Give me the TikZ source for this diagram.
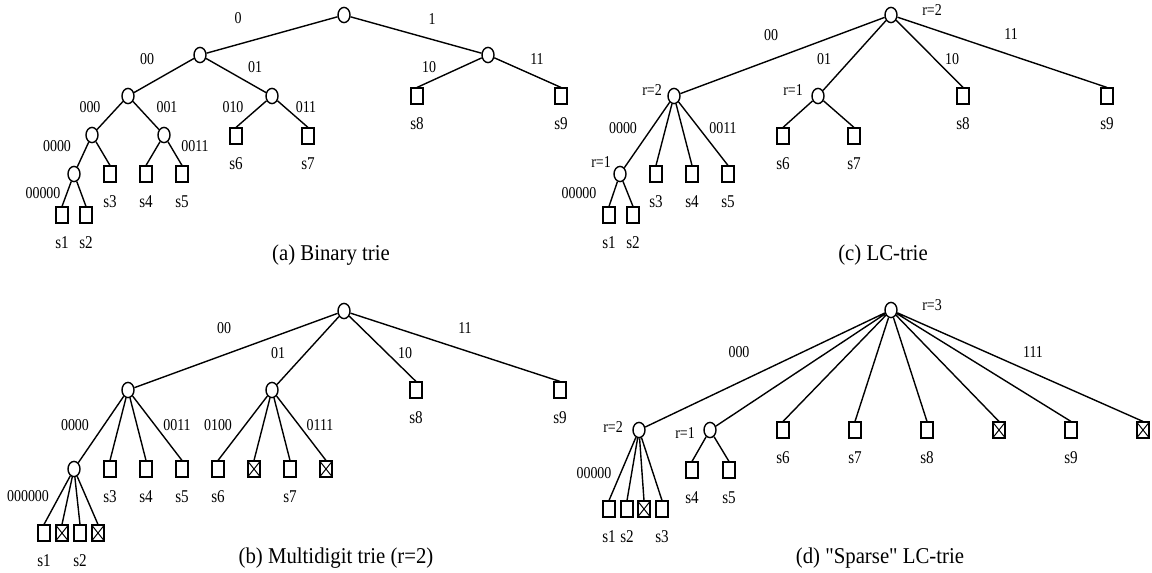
\documentclass[tikz,border=0pt]{standalone}
\usepackage{fontspec}
\setmainfont{Liberation Serif}
\newfontfamily\lblfont[FakeStretch=0.84]{Liberation Serif}
\newfontfamily\capfont[FakeStretch=0.92]{Liberation Serif}
\usetikzlibrary{shapes.geometric}
\begin{document}
\begin{tikzpicture}[x=0.5pt,y=-0.5pt,
  inode/.style={ellipse,draw,line width=0.7pt,minimum width=6pt,minimum height=7.6pt,inner sep=0pt,fill=white},
  leaf/.style={rectangle,draw,line width=0.75pt,minimum width=6.2pt,minimum height=7.8pt,inner sep=0pt},
  xleaf/.style={leaf,path picture={\draw[line width=0.5pt] (path picture bounding box.north west)--(path picture bounding box.south east) (path picture bounding box.north east)--(path picture bounding box.south west);}},
  elab/.style={font=\lblfont\fontsize{8.3}{9}\selectfont,inner sep=0pt},
  slab/.style={font=\lblfont\fontsize{9}{10}\selectfont,inner sep=0pt,text height=6pt,text depth=0pt,label distance=6.1pt},
  captxt/.style={font=\capfont\fontsize{11.3}{13}\selectfont,inner sep=0pt},
  conn/.style={line width=0.7pt},
]
\useasboundingbox (0,0) rectangle (1152,573);

% ---------------- (a) Binary trie ----------------
\node[inode] (a) at (344,15) {};
\node[inode] (a0) at (200,55) {};
\node[inode] (a1) at (488,55) {};
\node[inode] (a00) at (128,96) {};
\node[inode] (a01) at (272,96) {};
\node[inode] (a000) at (92,135) {};
\node[inode] (a001) at (164,135) {};
\node[inode] (a0000) at (74,174) {};
\node[leaf,label={[slab]below:s1}] (as1) at (62,215) {};
\node[leaf,label={[slab]below:s2}] (as2) at (86,215) {};
\node[leaf,label={[slab]below:s3}] (as3) at (110,174) {};
\node[leaf,label={[slab]below:s4}] (as4) at (146,174) {};
\node[leaf,label={[slab]below:s5}] (as5) at (182,174) {};
\node[leaf,label={[slab]below:s6}] (as6) at (236,136) {};
\node[leaf,label={[slab]below:s7}] (as7) at (308,136) {};
\node[leaf,label={[slab]below:s8}] (as8) at (417,96) {};
\node[leaf,label={[slab]below:s9}] (as9) at (561,96) {};
\draw[conn] (a)--(a0) (a)--(a1) (a0)--(a00) (a0)--(a01)
  (a1)--(as8.north) (a1)--(as9.north) (a00)--(a000) (a00)--(a001)
  (a01)--(as6.north) (a01)--(as7.north) (a000)--(a0000) (a000)--(as3.north)
  (a001)--(as4.north) (a001)--(as5.north) (a0000)--(as1.north) (a0000)--(as2.north);
\node[elab] (la1) at (238,18) {0};
\node[elab] (la2) at (432,19) {1};
\node[elab] (la3) at (147,59) {00};
\node[elab] (la4) at (255,67) {01};
\node[elab] (la5) at (429,67) {10};
\node[elab] (la6) at (537,59) {11};
\node[elab] (la7) at (90,107) {000};
\node[elab] (la8) at (167,107) {001};
\node[elab] (la9) at (233,107) {010};
\node[elab] (la10) at (306,107) {011};
\node[elab] (la11) at (57,146) {0000};
\node[elab] (la12) at (195,146) {0011};
\node[elab] (la13) at (43,193) {00000};
\node[captxt] (capa) at (331,255) {(a) Binary trie};

% ---------------- (c) LC-trie ----------------
\node[inode] (c) at (891,15) {};
\node[inode] (cr2) at (674,96) {};
\node[inode] (cr1) at (818,96) {};
\node[inode] (cq) at (620,174) {};
\node[leaf,label={[slab]below:s8}] (cs8) at (963,96) {};
\node[leaf,label={[slab]below:s9}] (cs9) at (1107,96) {};
\node[leaf,label={[slab]below:s3}] (cs3) at (656,174) {};
\node[leaf,label={[slab]below:s4}] (cs4) at (692,174) {};
\node[leaf,label={[slab]below:s5}] (cs5) at (728,174) {};
\node[leaf,label={[slab]below:s6}] (cs6) at (783,136) {};
\node[leaf,label={[slab]below:s7}] (cs7) at (854,136) {};
\node[leaf,label={[slab]below:s1}] (cs1) at (609,215) {};
\node[leaf,label={[slab]below:s2}] (cs2) at (633,215) {};
\draw[conn] (c)--(cr2) (c)--(cr1) (c)--(cs8.north) (c)--(cs9.north)
  (cr2)--(cq) (cr2)--(cs3.north) (cr2)--(cs4.north) (cr2)--(cs5.north)
  (cr1)--(cs6.north) (cr1)--(cs7.north) (cq)--(cs1.north) (cq)--(cs2.north);
\node[elab] (lc1) at (932,10) {r=2};
\node[elab] (lc2) at (771,35) {00};
\node[elab] (lc3) at (824,59) {01};
\node[elab] (lc4) at (952,59) {10};
\node[elab] (lc5) at (1011,34) {11};
\node[elab] (lc6) at (652,90) {r=2};
\node[elab] (lc7) at (793,90) {r=1};
\node[elab] (lc8) at (623,128) {0000};
\node[elab] (lc9) at (723,128) {0011};
\node[elab] (lc10) at (601,162) {r=1};
\node[elab] (lc11) at (579,193) {00000};
\node[captxt] (capc) at (883,255) {(c) LC-trie};

% ---------------- (b) Multidigit trie ----------------
\node[inode] (b) at (344,311) {};
\node[inode] (b00) at (128,390) {};
\node[inode] (b01) at (272,390) {};
\node[inode] (b0000) at (74,469) {};
\node[leaf,label={[slab]below:s8}] (bs8) at (416,390) {};
\node[leaf,label={[slab]below:s9}] (bs9) at (560,390) {};
\node[leaf,label={[slab]below:s3}] (bs3) at (110,469) {};
\node[leaf,label={[slab]below:s4}] (bs4) at (146,469) {};
\node[leaf,label={[slab]below:s5}] (bs5) at (182,469) {};
\node[leaf,label={[slab]below:s6}] (bs6) at (218,469) {};
\node[xleaf] (bx1) at (254,469) {};
\node[leaf,label={[slab]below:s7}] (bs7) at (290,469) {};
\node[xleaf] (bx2) at (326,469) {};
\node[leaf,label={[slab]below:s1}] (bs1) at (44,533) {};
\node[xleaf] (bx3) at (62,533) {};
\node[leaf,label={[slab]below:s2}] (bs2) at (80,533) {};
\node[xleaf] (bx4) at (98,533) {};
\draw[conn] (b)--(b00) (b)--(b01) (b)--(bs8.north) (b)--(bs9.north)
  (b00)--(b0000) (b00)--(bs3.north) (b00)--(bs4.north) (b00)--(bs5.north)
  (b01)--(bs6.north) (b01)--(bx1.north) (b01)--(bs7.north) (b01)--(bx2.north)
  (b0000)--(bs1.north) (b0000)--(bx3.north) (b0000)--(bs2.north) (b0000)--(bx4.north);
\node[elab] (lb1) at (224,328) {00};
\node[elab] (lb2) at (278,353) {01};
\node[elab] (lb3) at (405,353) {10};
\node[elab] (lb4) at (465,328) {11};
\node[elab] (lb5) at (75,425) {0000};
\node[elab] (lb6) at (177,425) {0011};
\node[elab] (lb7) at (218,425) {0100};
\node[elab] (lb8) at (320,425) {0111};
\node[elab] (lb9) at (28,496) {000000};
\node[captxt] (capb) at (336,558) {(b) Multidigit trie (r=2)};

% ---------------- (d) Sparse LC-trie ----------------
\node[inode] (d) at (891,310) {};
\node[inode] (dr2) at (639,430) {};
\node[inode] (dr1) at (710,430) {};
\node[leaf,label={[slab]below:s6}] (ds6) at (783,430) {};
\node[leaf,label={[slab]below:s7}] (ds7) at (855,430) {};
\node[leaf,label={[slab]below:s8}] (ds8) at (927,430) {};
\node[xleaf] (dx1) at (999,430) {};
\node[leaf,label={[slab]below:s9}] (ds9) at (1071,430) {};
\node[xleaf] (dx2) at (1143,430) {};
\node[leaf,label={[slab]below:s1}] (ds1) at (609,509) {};
\node[leaf,label={[slab]below:s2}] (ds2) at (627,509) {};
\node[xleaf] (dx3) at (644,509) {};
\node[leaf,label={[slab]below:s3}] (ds3) at (662,509) {};
\node[leaf,label={[slab]below:s4}] (ds4) at (692,470) {};
\node[leaf,label={[slab]below:s5}] (ds5) at (729,470) {};
\draw[conn] (d)--(dr2) (d)--(dr1) (d)--(ds6.north) (d)--(ds7.north)
  (d)--(ds8.north) (d)--(dx1.north) (d)--(ds9.north) (d)--(dx2.north)
  (dr2)--(ds1.north) (dr2)--(ds2.north) (dr2)--(dx3.north) (dr2)--(ds3.north)
  (dr1)--(ds4.north) (dr1)--(ds5.north);
\node[elab] (ld1) at (932,305) {r=3};
\node[elab] (ld2) at (739,352) {000};
\node[elab] (ld3) at (1033,352) {111};
\node[elab] (ld4) at (613,427) {r=2};
\node[elab] (ld5) at (685,433) {r=1};
\node[elab] (ld6) at (594,473) {00000};
\node[captxt] (capd) at (880,558) {(d) "Sparse" LC-trie};
\end{tikzpicture}
\end{document}
